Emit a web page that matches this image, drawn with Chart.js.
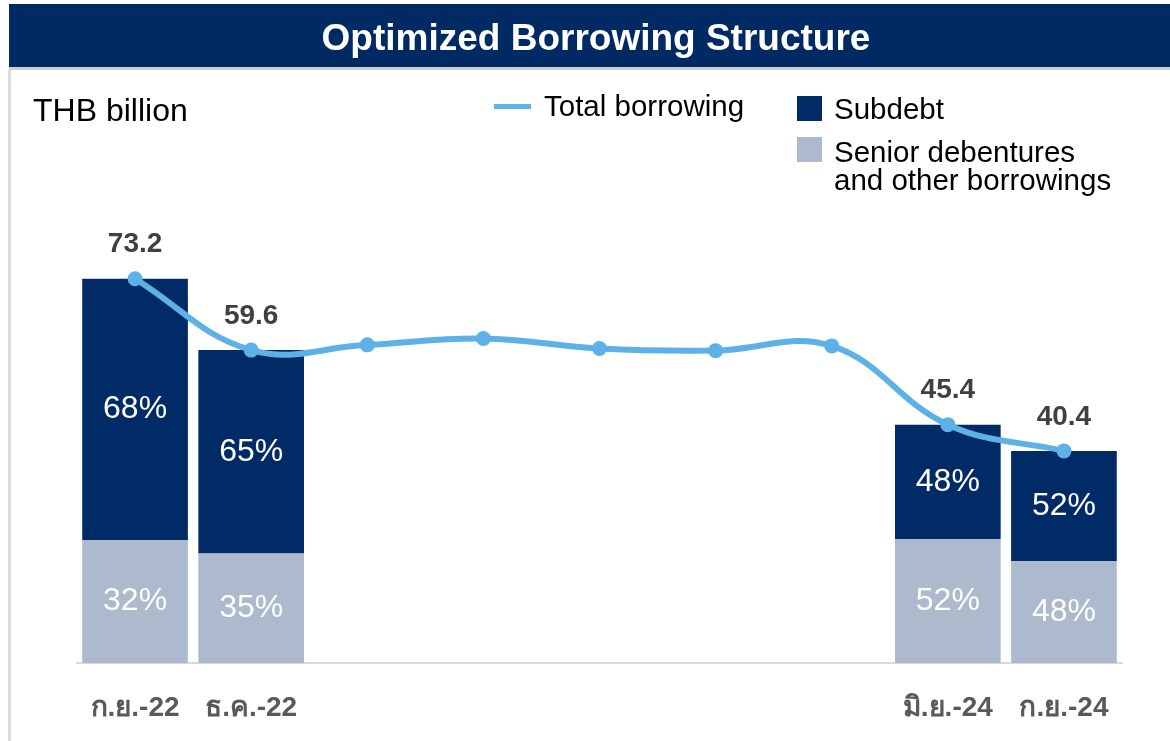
<!DOCTYPE html>
<html>
<head>
<meta charset="utf-8">
<script src="https://cdn.jsdelivr.net/npm/chart.js@4/dist/chart.umd.min.js"></script>
<style>
  html, body { margin: 0; padding: 0; background: #ffffff; }
  #wrap { position: relative; width: 1170px; height: 741px; overflow: hidden; font-family: "Liberation Sans", Arial, sans-serif; }
  #titlebar { position: absolute; left: 9px; top: 4px; width: 1161px; height: 63px; background: #002A64; border-bottom: 3px solid #c9cdd6; }
  #titlebar span { position: absolute; left: 0; width: 1174px; top: 0; line-height: 68px; text-align: center; color: #ffffff; font-weight: bold; font-size: 37px; }
  #leftborder { position: absolute; left: 8px; top: 70px; width: 3px; height: 680px; background: #dcdcdc; }
  .txt { position: absolute; color: #000000; font-size: 29.5px; line-height: 34px; white-space: nowrap; }
  #unit { left: 33px; top: 91px; font-size: 32px; line-height: 38px; }
  .swatch { position: absolute; }
  canvas { position: absolute; left: 0; top: 0; }
</style>
</head>
<body>
<div id="wrap">
  <canvas id="c" width="1170" height="741"></canvas>
  <div id="titlebar"><span>Optimized Borrowing Structure</span></div>
  <div id="leftborder"></div>
  <div class="txt" id="unit">THB billion</div>
  <div class="swatch" style="left:494px;top:104px;width:37px;height:5px;background:#5DB1E6;"></div>
  <div class="txt" style="left:544px;top:89px;">Total borrowing</div>
  <div class="swatch" style="left:797px;top:96px;width:25px;height:25px;background:#002B66;"></div>
  <div class="txt" style="left:834px;top:92px;">Subdebt</div>
  <div class="swatch" style="left:797px;top:137px;width:25px;height:25px;background:#ADB9CC;"></div>
  <div class="txt" style="left:834px;top:138px;line-height:28px;">Senior debentures<br>and other borrowings</div>
</div>
<script>
// ---- data ----
const categories = ['ก.ย.-22', 'ธ.ค.-22', '', '', '', '', '', 'มิ.ย.-24', 'ก.ย.-24'];
const totalBorrowing = [73.2, 59.6, 60.6, 61.8, 59.9, 59.5, 60.4, 45.4, 40.4];
const subdebtPct = [68, 65, null, null, null, null, null, 48, 52];
const seniorPct = [32, 35, null, null, null, null, null, 52, 48];

// stacked amounts built from totals and shares
const subdebtAmt = totalBorrowing.map((t, i) => subdebtPct[i] == null ? null : t * subdebtPct[i] / 100);
const seniorAmt = totalBorrowing.map((t, i) => seniorPct[i] == null ? null : t * seniorPct[i] / 100);

const labelPlugin = {
  id: 'labels',
  afterDatasetsDraw(chart) {
    const ctx = chart.ctx;
    ctx.save();
    ctx.textAlign = 'center';
    ctx.textBaseline = 'middle';
    // percent labels in bars
    ctx.font = '32px "Liberation Sans", Arial, sans-serif';
    ctx.fillStyle = '#ffffff';
    [[0, seniorPct], [1, subdebtPct]].forEach(([di, pcts]) => {
      const meta = chart.getDatasetMeta(di);
      meta.data.forEach((bar, i) => {
        if (pcts[i] == null) return;
        const y = (bar.y + bar.base) / 2;
        ctx.fillText(pcts[i] + '%', bar.x, y);
      });
    });
    // total labels above points where bars exist
    ctx.font = 'bold 28px "Liberation Sans", Arial, sans-serif';
    ctx.fillStyle = '#404040';
    const lm = chart.getDatasetMeta(2);
    lm.data.forEach((pt, i) => {
      if (subdebtPct[i] == null) return;
      ctx.fillText(totalBorrowing[i].toFixed(1), pt.x, pt.y - 34);
    });
    ctx.restore();
  }
};

new Chart(document.getElementById('c'), {
  data: {
    labels: categories,
    datasets: [
      { type: 'bar', label: 'Senior debentures and other borrowings', data: seniorAmt, backgroundColor: '#ADB9CC', stack: 'bars', order: 2, barPercentage: 0.91, categoryPercentage: 1.0 },
      { type: 'bar', label: 'Subdebt', data: subdebtAmt, backgroundColor: '#002B66', stack: 'bars', order: 2, barPercentage: 0.91, categoryPercentage: 1.0 },
      { type: 'line', label: 'Total borrowing', data: totalBorrowing, borderColor: '#5DB1E6', backgroundColor: '#5DB1E6', borderWidth: 6, pointRadius: 7.5, pointBackgroundColor: '#5DB1E6', pointBorderWidth: 0, tension: 0.4, stack: 'line', order: 0 }
    ]
  },
  options: {
    responsive: false,
    animation: false,
    devicePixelRatio: 1,
    layout: { padding: { left: 77, right: 48, top: 243, bottom: 0 } },
    plugins: { legend: { display: false }, tooltip: { enabled: false }, title: { display: false } },
    scales: {
      x: {
        stacked: true,
        grid: { display: false, drawTicks: false },
        border: { display: true, color: '#d9d9d9', width: 2 },
        ticks: { color: '#595959', font: { family: '"Liberation Sans", Arial, sans-serif', size: 28, weight: 'bold' }, padding: 28, maxRotation: 0, autoSkip: false },
        afterFit(scale) { scale.height = 78; }
      },
      y: { stacked: true, display: false, min: 0, max: 80 }
    }
  },
  plugins: [labelPlugin]
});
</script>
</body>
</html>
